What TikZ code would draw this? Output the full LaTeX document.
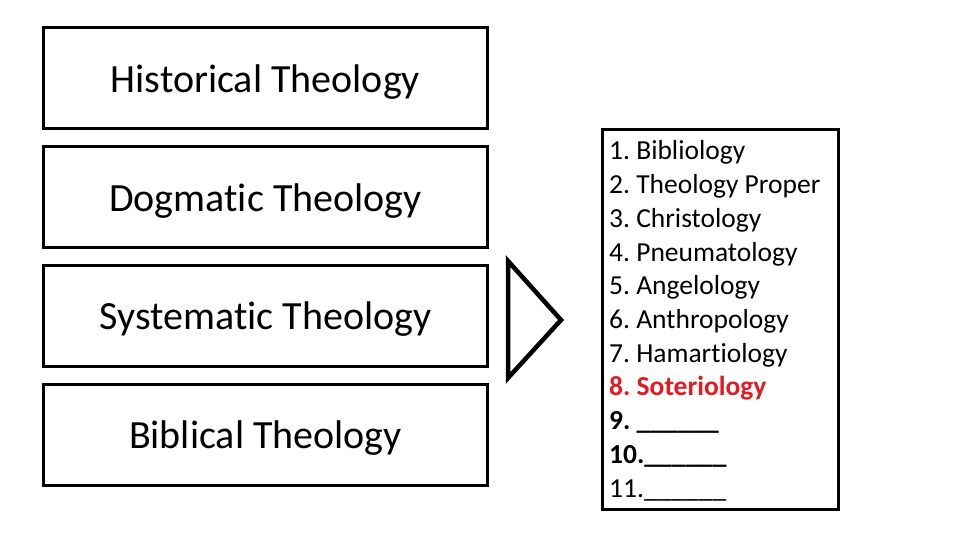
\documentclass[tikz,border=0pt]{standalone}
\usepackage{fontspec}
\setmainfont{Carlito}[Ligatures={NoCommon,NoRequired,NoContextual}]
\frenchspacing
\definecolor{sred}{RGB}{224,28,34}
\begin{document}
\begin{tikzpicture}[x=1pt,y=-1pt,
  thbox/.style={draw=black,line width=3pt,minimum width=444pt,minimum height=101pt,inner sep=0pt,text height=28pt,text depth=0pt,font=\fontsize{40}{48}\selectfont},
  item/.style={anchor=base west,inner sep=0pt,font=\fontsize{27.5}{33}\selectfont}]
\useasboundingbox (0,0) rectangle (960,540);
\node[thbox] (hist) at (265.5,78.5) {Historical Theology};
\node[thbox] (dog) at (265.5,197) {Dogmatic Theology};
\node[thbox] (sys) at (265.5,315.5) {Systematic Theology};
\node[thbox] (bib) at (265.5,434.5) {Biblical Theology};
\draw[line width=4.5pt,line join=miter] (508,261) -- (561,320) -- (508,378) -- cycle;
\node[draw=black,line width=3pt,minimum width=236pt,minimum height=379pt,inner sep=0pt] (list) at (720,319.5) {};
\node[item] (l1) at (609,160) {1. Bibliology};
\node[item] (l2) at (609,193.7) {2. Theology Proper};
\node[item] (l3) at (609,227.4) {3. Christology};
\node[item] (l4) at (609,261.1) {4. Pneumatology};
\node[item] (l5) at (609,294.8) {5. Angelology};
\node[item] (l6) at (609,328.5) {6. Anthropology};
\node[item] (l7) at (609,362.2) {7. Hamartiology};
\node[item,text=sred] (l8) at (609,395.9) {\bfseries 8. Soteriology};
\node[item] (l9) at (609,429.6) {\bfseries 9. \_\_\_\_\_\_};
\node[item] (l10) at (609,463.3) {\bfseries 10.\_\_\_\_\_\_};
\node[item] (l11) at (609,497) {11.\_\_\_\_\_\_};
\end{tikzpicture}
\end{document}
